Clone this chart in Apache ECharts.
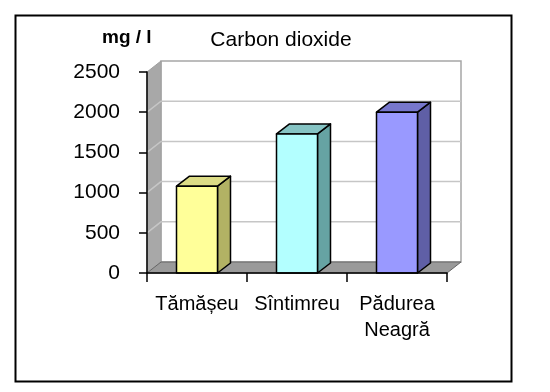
<!DOCTYPE html>
<html><head><meta charset="utf-8">
<script src="https://cdn.jsdelivr.net/npm/echarts@6/dist/echarts.min.js"></script>
<style>html,body{margin:0;padding:0;background:#fff}#c{width:550px;height:392px}</style>
</head><body><div id="c"></div>
<script>
const categories = ['Tămășeu', 'Sîntimreu', 'Pădurea\nNeagră'];
const values = [1080, 1730, 2000];
const yTicks = [0, 500, 1000, 1500, 2000, 2500];
const frontColors = ['#ffff99', '#b3ffff', '#9999ff'];
const topColors = ['#dcdc86', '#86c4c4', '#7777cc'];
const sideColors = ['#b2b264', '#66a3a3', '#5f5fa6'];

const WD = [14, -11];
const BD = [13, -10];
const FONT = 'Liberation Sans, Arial, sans-serif';

const chart = echarts.init(document.getElementById('c'), null, {renderer: 'canvas'});

function renderWalls(params, api) {
  const band = api.size([1, 0])[0];
  const p0 = api.coord([0, 0]);
  const xl = p0[0] - band / 2;
  const xr = api.coord([categories.length - 1, 0])[0] + band / 2;
  const y0 = p0[1];
  const yTop = api.coord([0, yTicks[yTicks.length - 1]])[1];
  const dx = WD[0], dy = WD[1];
  const ch = [];
  ch.push({type: 'polygon', shape: {points: [[xl + dx, y0 + dy], [xr + dx, y0 + dy], [xr + dx, yTop + dy], [xl + dx, yTop + dy]]},
    style: {fill: '#ffffff', stroke: '#a6a6a6', lineWidth: 1.5}});
  ch.push({type: 'polygon', shape: {points: [[xl, y0], [xl + dx, y0 + dy], [xl + dx, yTop + dy], [xl, yTop]]},
    style: {fill: '#a8a8a8', stroke: '#a0a0a0', lineWidth: 1}});
  yTicks.slice(1, -1).forEach(v => {
    const y = api.coord([0, v])[1];
    ch.push({type: 'polyline', shape: {points: [[xl, y], [xl + dx, y + dy], [xr + dx, y + dy]]},
      style: {stroke: '#c6c6c6', lineWidth: 1.5, fill: null}});
  });
  ch.push({type: 'polygon', shape: {points: [[xl, y0], [xr, y0], [xr + dx, y0 + dy], [xl + dx, y0 + dy]]},
    style: {fill: '#9a9a9a', stroke: '#666', lineWidth: 1}});
  return {type: 'group', children: ch};
}

function renderBar(params, api) {
  const idx = api.value(0);
  const v = api.value(1);
  const top = api.coord([idx, v]);
  const bot = api.coord([idx, 0]);
  const w = api.size([1, 0])[0] * 0.41;
  const x0 = top[0] - w / 2, x1 = top[0] + w / 2;
  const yt = top[1], yb = bot[1];
  const dx = BD[0], dy = BD[1];
  const i = params.dataIndex;
  const st = {stroke: '#000', lineWidth: 1.5, lineJoin: 'round'};
  return {type: 'group', children: [
    {type: 'polygon', shape: {points: [[x1, yt], [x1 + dx, yt + dy], [x1 + dx, yb + dy], [x1, yb]]}, style: Object.assign({fill: sideColors[i]}, st)},
    {type: 'polygon', shape: {points: [[x0, yt], [x0 + dx, yt + dy], [x1 + dx, yt + dy], [x1, yt]]}, style: Object.assign({fill: topColors[i]}, st)},
    {type: 'polygon', shape: {points: [[x0, yt], [x1, yt], [x1, yb], [x0, yb]]}, style: Object.assign({fill: frontColors[i]}, st)}
  ]};
}

chart.setOption({
  animation: false,
  backgroundColor: '#ffffff',
  title: [
    {text: 'Carbon dioxide', left: 281, top: 30, textAlign: 'center', padding: 0,
      textStyle: {fontSize: 21, fontWeight: 'normal', fontFamily: FONT, color: '#000'}},
    {text: 'mg / l', left: 102, top: 28, padding: 0,
      textStyle: {fontSize: 19, fontWeight: 'bold', fontFamily: FONT, color: '#000'}}
  ],
  graphic: [{type: 'rect', left: 13, top: 13, shape: {width: 496, height: 366},
    style: {fill: null, stroke: '#000', lineWidth: 2}}],
  grid: {left: 147, right: 103, top: 72, bottom: 119, containLabel: false},
  xAxis: {
    type: 'category', data: categories, z: 10,
    axisLine: {show: true, lineStyle: {color: '#000', width: 1.5}},
    axisTick: {show: true, length: 9, alignWithLabel: false, lineStyle: {color: '#000', width: 1.5}},
    axisLabel: {interval: 0, fontSize: 20, color: '#000', fontFamily: FONT, lineHeight: 26, margin: 18},
    splitLine: {show: false}
  },
  yAxis: {
    type: 'value', min: 0, max: 2500, interval: 500, z: 10,
    axisLine: {show: true, lineStyle: {color: '#000', width: 1.5}},
    axisTick: {show: true, length: 8, lineStyle: {color: '#000', width: 1.5}},
    axisLabel: {fontSize: 21, color: '#000', fontFamily: FONT, margin: 27, formatter: v => String(v)},
    splitLine: {show: false}
  },
  series: [
    {type: 'custom', name: 'walls', z: 1, renderItem: renderWalls, data: [[0, 0]], silent: true},
    {type: 'custom', name: 'Carbon dioxide', z: 3, renderItem: renderBar,
      encode: {x: 0, y: 1}, data: values.map((v, i) => [i, v])}
  ]
});
</script></body></html>
